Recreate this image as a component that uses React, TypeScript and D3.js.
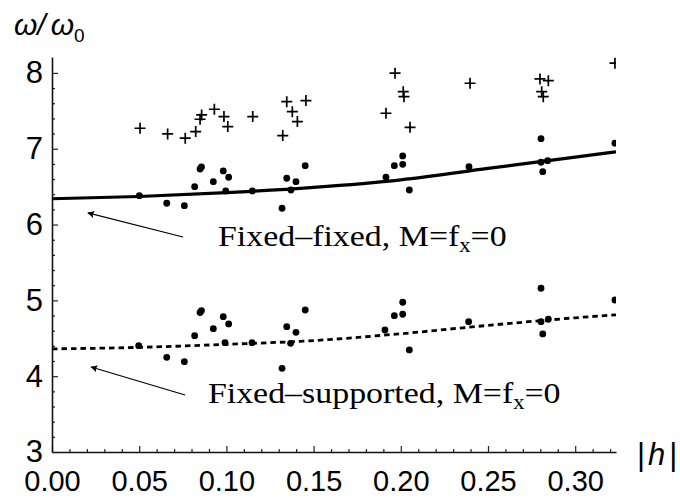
import React, { useEffect, useRef } from "react";
import * as d3 from "d3";

// plus markers: upper numerical points (h, omega/omega0)
const plusH = [0.0505, 0.0663, 0.0764, 0.0824, 0.0849, 0.0858, 0.0931, 0.0986, 0.1008, 0.1151, 0.1323, 0.1346, 0.1378, 0.1407, 0.1456, 0.1915, 0.1967, 0.2014, 0.2018, 0.2053, 0.2397, 0.2798, 0.2846, 0.2808, 0.2817, 0.3228];
const plusW = [7.27, 7.195, 7.139, 7.226, 7.389, 7.446, 7.521, 7.424, 7.292, 7.424, 7.173, 7.621, 7.489, 7.358, 7.635, 7.468, 7.996, 7.753, 7.687, 7.283, 7.864, 7.921, 7.898, 7.753, 7.687, 8.128];

// dots near the fixed-fixed curve
const ffDotH = [0.0501, 0.0658, 0.0759, 0.0818, 0.0849, 0.0857, 0.0925, 0.0982, 0.1013, 0.0996, 0.1149, 0.1319, 0.1346, 0.137, 0.1399, 0.1452, 0.1915, 0.1963, 0.2011, 0.2011, 0.2049, 0.2391, 0.2804, 0.2804, 0.2842, 0.2814, 0.3228];
const ffDotW = [6.381, 6.281, 6.249, 6.5, 6.733, 6.759, 6.566, 6.707, 6.624, 6.443, 6.443, 6.215, 6.611, 6.456, 6.566, 6.777, 6.624, 6.777, 6.795, 6.905, 6.456, 6.764, 7.133, 6.822, 6.843, 6.698, 7.073];

// dots near the fixed-supported curve
const fsDotH = [0.0497, 0.0658, 0.0759, 0.0818, 0.0849, 0.0857, 0.0925, 0.0982, 0.1013, 0.0992, 0.1147, 0.1319, 0.1346, 0.1368, 0.1399, 0.1452, 0.1909, 0.1963, 0.2011, 0.2011, 0.2049, 0.2389, 0.2804, 0.2804, 0.2846, 0.2814, 0.3228];
const fsDotW = [4.402, 4.249, 4.191, 4.534, 4.84, 4.865, 4.627, 4.785, 4.689, 4.442, 4.442, 4.104, 4.653, 4.434, 4.579, 4.873, 4.609, 4.798, 4.817, 4.975, 4.346, 4.719, 5.16, 4.719, 4.751, 4.557, 5.005];

// analytic curves
const curveH = [0, 0.05, 0.1, 0.15, 0.2, 0.25, 0.3, 0.3234];
const fixedFixedW = [6.34, 6.37, 6.42, 6.49, 6.59, 6.74, 6.89, 6.96];
const fixedSupportedW = [4.36, 4.38, 4.42, 4.47, 4.56, 4.67, 4.77, 4.81];

const xTicks = [0, 0.05, 0.1, 0.15, 0.2, 0.25, 0.3];
const yTicks = [3, 4, 5, 6, 7, 8];

export default function App() {
  const svgRef = useRef<SVGSVGElement>(null);

  useEffect(() => {
    const width = 680;
    const height = 498;
    const svg = d3.select(svgRef.current);
    svg.selectAll("*").remove();

    const x = d3.scaleLinear().domain([0, 0.3234]).range([52, 616]);
    const y = d3.scaleLinear().domain([3, 8.21]).range([452, 57]);

    const sans = "'Liberation Sans', Arial, Helvetica, sans-serif";
    const serif = "'Liberation Serif', 'Times New Roman', serif";

    svg
      .append("defs")
      .append("clipPath")
      .attr("id", "plot-clip")
      .append("rect")
      .attr("x", x(0))
      .attr("y", 40)
      .attr("width", x(0.3234) - x(0))
      .attr("height", y(3) - 40);

    // minor ticks
    const xMinor = d3
      .range(1, 33)
      .map((i) => i / 100)
      .filter((v) => Math.round(v * 100) % 5 !== 0);
    const yMinor = d3
      .range(15, 41)
      .map((i) => i / 5)
      .filter((v) => Math.abs(v - Math.round(v)) > 1e-6);

    svg
      .append("g")
      .attr("transform", `translate(0,${y(3)})`)
      .call(d3.axisBottom(x).tickValues(xMinor).tickSizeInner(-3).tickSizeOuter(0).tickFormat(() => ""))
      .call((g) => g.select(".domain").remove());
    svg
      .append("g")
      .attr("transform", `translate(${x(0)},0)`)
      .call(d3.axisLeft(y).tickValues(yMinor).tickSizeInner(-3).tickSizeOuter(0).tickFormat(() => ""))
      .call((g) => g.select(".domain").remove());

    // major axes
    const xAxis = svg
      .append("g")
      .attr("transform", `translate(0,${y(3)})`)
      .call(
        d3
          .axisBottom(x)
          .tickValues(xTicks)
          .tickSizeInner(-6)
          .tickSizeOuter(0)
          .tickPadding(18)
          .tickFormat((d) => d3.format(".2f")(d as number))
      );
    xAxis
      .selectAll("text")
      .attr("font-size", 29)
      .attr("font-family", sans)
      .attr("fill", "#000")
      .attr("dy", "0.72em");

    const yAxis = svg
      .append("g")
      .attr("transform", `translate(${x(0)},0)`)
      .call(d3.axisLeft(y).tickValues(yTicks).tickSizeInner(-6).tickSizeOuter(0).tickPadding(9).tickFormat(d3.format("d")));
    yAxis.selectAll("text").attr("font-size", 31).attr("font-family", sans).attr("fill", "#000");

    svg.selectAll(".domain").attr("stroke", "#111").attr("stroke-width", 1.6);
    svg.selectAll(".tick line").attr("stroke", "#222").attr("stroke-width", 1.2);

    const plot = svg.append("g").attr("clip-path", "url(#plot-clip)");

    const line = d3
      .line<number>()
      .x((_, i) => x(curveH[i]))
      .y((d) => y(d))
      .curve(d3.curveMonotoneX);

    plot
      .append("path")
      .attr("d", line(fixedFixedW))
      .attr("fill", "none")
      .attr("stroke", "#000")
      .attr("stroke-width", 3.2);

    plot
      .append("path")
      .attr("d", line(fixedSupportedW))
      .attr("fill", "none")
      .attr("stroke", "#000")
      .attr("stroke-width", 2.8)
      .attr("stroke-dasharray", "5.5,4");

    plot
      .selectAll("circle.ff")
      .data(ffDotH)
      .join("circle")
      .attr("class", "ff")
      .attr("cx", (d) => x(d))
      .attr("cy", (_, i) => y(ffDotW[i]))
      .attr("r", 3.4)
      .attr("fill", "#000");

    plot
      .selectAll("circle.fs")
      .data(fsDotH)
      .join("circle")
      .attr("class", "fs")
      .attr("cx", (d) => x(d))
      .attr("cy", (_, i) => y(fsDotW[i]))
      .attr("r", 3.4)
      .attr("fill", "#000");

    plot
      .selectAll("path.plus")
      .data(plusH)
      .join("path")
      .attr("class", "plus")
      .attr("transform", (d, i) => `translate(${x(d)},${y(plusW[i])})`)
      .attr("d", "M-5.5,0H5.5M0,-5.5V5.5")
      .attr("stroke", "#000")
      .attr("stroke-width", 1.7)
      .attr("fill", "none");

    // arrows
    const marker = svg
      .select("defs")
      .append("marker")
      .attr("id", "arrowhead")
      .attr("viewBox", "0 0 10 10")
      .attr("refX", 9)
      .attr("refY", 5)
      .attr("markerWidth", 9)
      .attr("markerHeight", 7)
      .attr("markerUnits", "userSpaceOnUse")
      .attr("orient", "auto");
    marker.append("path").attr("d", "M0,0L10,5L0,10L2,5Z").attr("fill", "#000");

    const arrows = [
      { from: [0.0751, 5.836], to: [0.0206, 6.153] },
      { from: [0.0763, 3.752], to: [0.0224, 4.121] },
    ];
    svg
      .selectAll("line.arrow")
      .data(arrows)
      .join("line")
      .attr("class", "arrow")
      .attr("x1", (d) => x(d.from[0]))
      .attr("y1", (d) => y(d.from[1]))
      .attr("x2", (d) => x(d.to[0]))
      .attr("y2", (d) => y(d.to[1]))
      .attr("stroke", "#000")
      .attr("stroke-width", 1.2)
      .attr("marker-end", "url(#arrowhead)");

    // annotations
    const labels = [
      { h: 0.0952, w: 5.718, text: "Fixed\u2013fixed, M=f" },
      { h: 0.0894, w: 3.646, text: "Fixed\u2013supported, M=f" },
    ];
    labels.forEach((l) => {
      const t = svg
        .append("text")
        .attr("transform", `translate(${x(l.h)},${y(l.w)}) scale(1.13,1)`)
        .attr("font-family", serif)
        .attr("font-size", 30)
        .attr("fill", "#000");
      t.append("tspan").text(l.text);
      t.append("tspan").attr("dy", 6).attr("font-size", 20).text("x");
      t.append("tspan").attr("dy", -6).text("=0");
    });

    // axis titles
    const yt = svg
      .append("text")
      .attr("x", 14)
      .attr("y", 35)
      .attr("font-family", sans)
      .attr("font-size", 30)
      .attr("fill", "#000");
    yt.append("tspan").attr("font-style", "italic").text("\u03c9/");
    yt.append("tspan").attr("font-style", "italic").attr("dx", 5).text("\u03c9");
    yt.append("tspan").attr("font-size", 19).attr("dy", 7).text("0");

    const xt = svg
      .append("text")
      .attr("x", 637)
      .attr("y", 465)
      .attr("font-family", sans)
      .attr("font-size", 31)
      .attr("fill", "#000");
    xt.append("tspan").text("|");
    xt.append("tspan").attr("dx", 3).attr("font-style", "italic").text("h");
    xt.append("tspan").attr("dx", 4).text("|");

    svg.attr("width", width).attr("height", height);
  }, []);

  return (
    <svg
      ref={svgRef}
      width={680}
      height={498}
      style={{ position: "absolute", left: 0, top: 0, background: "#fff", display: "block" }}
    ></svg>
  );
}
